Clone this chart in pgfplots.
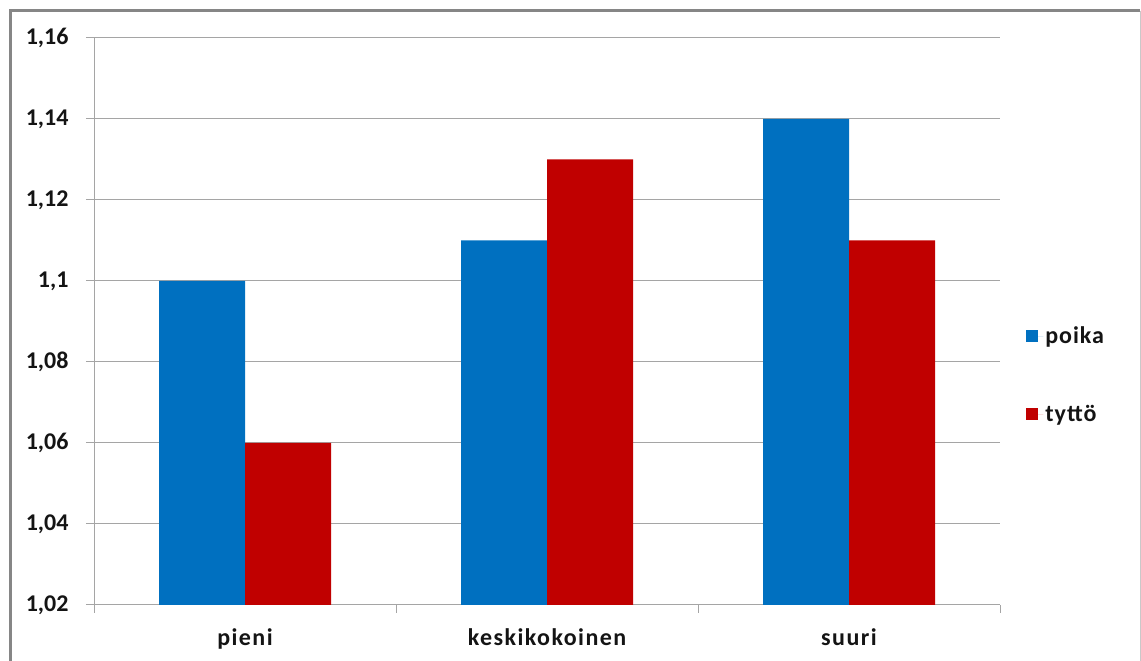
\documentclass[border=0pt]{standalone}
\usepackage{pgfplots}
\pgfplotsset{compat=1.18}
\usepackage{fontspec}
\setmainfont{Carlito}
\newfontfamily\spaced[LetterSpace=6]{Carlito}
\newfontfamily\lspaced[LetterSpace=4]{Carlito}
\definecolor{cblue}{RGB}{0,112,192}
\definecolor{cred}{RGB}{192,0,0}
\definecolor{gridc}{RGB}{165,165,165}
\definecolor{framec}{RGB}{134,134,134}
\definecolor{txt}{RGB}{20,20,20}
\begin{document}
\begin{tikzpicture}[x=1pt,y=1pt]
\useasboundingbox (0,0) rectangle (1141,661);
\draw[framec, line width=3pt] (10,-20) -- (10,650) -- (1140,650);
\draw[gridc!60, line width=1pt] (1140,650) -- (1140,-20);
\begin{axis}[
  at={(94pt,56pt)}, anchor=south west,
  scale only axis, width=906pt, height=567pt,
  ybar=0pt, bar width=86pt,
  xmin=-0.5, xmax=2.5, ymin=1.02, ymax=1.16,
  ytick={1.02,1.04,1.06,1.08,1.1,1.12,1.14,1.16},
  yticklabels={{1,02},{1,04},{1,06},{1,08},{1,1},{1,12},{1,14},{1,16}},
  xtick={0,1,2},
  xticklabels={pieni,keskikokoinen,suuri},
  ymajorgrids, grid style={gridc, line width=1pt},
  axis x line*=bottom, axis y line*=left,
  axis line style={gridc, line width=1pt, -},
  tick align=outside, major tick length=8pt,
  xtick style={draw=none},
  ytick style={draw=gridc, line width=1pt},
  extra x ticks={-0.5,0.5,1.5,2.5},
  extra x tick labels={},
  extra x tick style={grid=none, xtick style={draw=gridc, line width=1pt}},
  yticklabel style={font=\fontsize{24}{28}\selectfont\bfseries, text=txt, xshift=-14pt},
  xticklabel style={font=\spaced\fontsize{24}{28}\selectfont\bfseries, text=txt, yshift=-12pt},
  legend style={draw=none, fill=none, at={(1.0255,0.4056)}, anchor=west,
    font=\lspaced\fontsize{24}{28}\selectfont\bfseries, text=txt, row sep=56pt},
  legend cell align=left,
]
\addplot[fill=cblue, draw=none, legend image code/.code={\fill[cblue] (0pt,-6pt) rectangle (12pt,6pt); \path (0pt,0pt) -- (17pt,0pt);}]
  coordinates {(0,1.10) (1,1.11) (2,1.14)};
\addlegendentry{poika}
\addplot[fill=cred, draw=none, legend image code/.code={\fill[cred] (0pt,-6pt) rectangle (12pt,6pt); \path (0pt,0pt) -- (17pt,0pt);}]
  coordinates {(0,1.06) (1,1.13) (2,1.11)};
\addlegendentry{tyttö}
\end{axis}
\end{tikzpicture}
\end{document}
